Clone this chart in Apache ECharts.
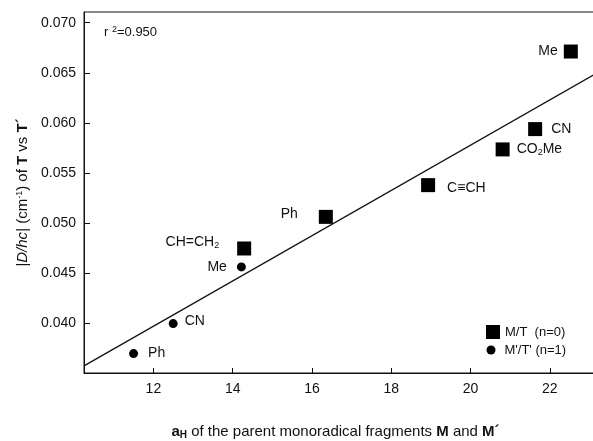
<!DOCTYPE html>
<html>
<head>
<meta charset="utf-8">
<script src="https://cdn.jsdelivr.net/npm/echarts@6/dist/echarts.min.js"></script>
<style>
html,body{margin:0;padding:0;background:#fff;}
#chart{width:593px;height:441px;}
</style>
</head>
<body>
<div id="chart"></div>
<script>
// ---- data ----
const squareNames = ['Me', 'CN', 'CO2Me', 'C≡CH', 'Ph', 'CH=CH2'];
const squareX = [22.53, 21.63, 20.81, 18.93, 16.35, 14.29];
const squareY = [0.06712, 0.05937, 0.05734, 0.05377, 0.05060, 0.04744];
const circleNames = ['Me', 'CN', 'Ph'];
const circleX = [14.22, 12.50, 11.50];
const circleY = [0.04560, 0.03994, 0.03694];
const fitX = [10.25, 23.14];
const fitY = [0.03571, 0.06486];
const xTicks = [12, 14, 16, 18, 20, 22];
const yTicks = [0.040, 0.045, 0.050, 0.055, 0.060, 0.065, 0.070];
const legendNames = ['M/T  (n=0)', "M'/T' (n=1)"];
const r2Text = '0.950';

// ---- styling ----
const FONT = 'Liberation Sans, Arial, sans-serif';
const INK = '#111';
const richSub = { sub: { fontSize: 9, verticalAlign: 'bottom', padding: [6, 0, 0, 0], color: INK, fontFamily: FONT } };
function richName(n) {
  if (n === 'CO2Me') return 'CO{sub|2}Me';
  if (n === 'CH=CH2') return 'CH=CH{sub|2}';
  return n;
}
const squareLabelStyle = {
  'Me': { position: 'left', distance: 6, offset: [0, 0] },
  'CN': { position: 'right', distance: 9, offset: [0, 0] },
  'CO2Me': { position: 'right', distance: 7, offset: [0, 0] },
  'C≡CH': { position: 'right', distance: 12, offset: [0, 3] },
  'Ph': { position: 'left', distance: 21, offset: [0, -3] },
  'CH=CH2': { position: 'left', distance: 18, offset: [0, -6] }
};
const circleLabelStyle = {
  'Me': { position: 'left', distance: 10, offset: [0, 0] },
  'CN': { position: 'right', distance: 7, offset: [0, -2] },
  'Ph': { position: 'right', distance: 10, offset: [0, 0] }
};
function makeData(names, xs, ys, styles) {
  return names.map((n, i) => ({
    name: n,
    value: [xs[i], ys[i]],
    label: Object.assign({ show: true }, styles[n])
  }));
}
const labelBase = {
  show: true,
  formatter: p => richName(p.name),
  color: INK,
  fontSize: 14,
  fontFamily: FONT,
  rich: richSub
};

const chart = echarts.init(document.getElementById('chart'), null, { renderer: 'canvas' });
chart.setOption({
  animation: false,
  backgroundColor: '#fff',
  title: {
    text: 'r {sup|2}=' + r2Text,
    left: 104,
    top: 25,
    padding: 0,
    textStyle: {
      fontSize: 13, fontWeight: 'normal', color: INK, fontFamily: FONT,
      rich: { sup: { fontSize: 9, verticalAlign: 'top', padding: [0, 0, 6, 0], color: INK, fontFamily: FONT } }
    }
  },
  grid: {
    left: 84, right: -2, top: 12, bottom: 68,
    containLabel: false,
    outerBoundsMode: 'none',
    show: true, borderColor: INK, borderWidth: 1, backgroundColor: 'transparent'
  },
  legend: [
    {
      data: [{ name: legendNames[0], icon: 'rect' }],
      left: 486, top: 325, padding: 0, itemWidth: 14, itemHeight: 14,
      itemStyle: { color: '#000', opacity: 1 },
      textStyle: { fontSize: 13, color: INK, fontFamily: FONT },
      selectedMode: false
    },
    {
      data: [{ name: legendNames[1], icon: 'circle' }],
      left: 486.5, top: 343.5, padding: 0, itemWidth: 9, itemHeight: 9,
      itemStyle: { color: '#000', opacity: 1 },
      textStyle: { fontSize: 13, color: INK, fontFamily: FONT, padding: [0, 0, 0, 4] },
      selectedMode: false
    }
  ],
  xAxis: {
    type: 'value',
    min: 10.25, max: 23.14,
    axisLine: { show: true, lineStyle: { color: INK, width: 1 } },
    axisTick: { show: true, inside: true, length: 5, lineStyle: { color: INK }, customValues: xTicks },
    axisLabel: { customValues: xTicks, fontSize: 14, color: INK, fontFamily: FONT, margin: 9 },
    splitLine: { show: false },
    name: '{b|a}{bs|H} of the parent monoradical fragments {b|M} and {b|M´}',
    nameLocation: 'middle',
    nameGap: 50,
    nameTextStyle: {
      fontSize: 15, color: INK, fontFamily: FONT, padding: [0, 8, 0, 0],
      rich: {
        b: { fontSize: 15, fontWeight: 'bold', color: INK, fontFamily: FONT },
        bs: { fontSize: 10, fontWeight: 'bold', color: INK, fontFamily: FONT, verticalAlign: 'bottom', padding: [7, 0, 0, 0] }
      }
    }
  },
  yAxis: {
    type: 'value',
    min: 0.035, max: 0.07107,
    axisLine: { show: true, lineStyle: { color: INK, width: 1 } },
    axisTick: { show: true, inside: true, length: 6, lineStyle: { color: INK }, customValues: yTicks },
    axisLabel: {
      customValues: yTicks, fontSize: 14, color: INK, fontFamily: FONT, margin: 8,
      formatter: v => v.toFixed(3)
    },
    splitLine: { show: false },
    name: '{i||D/hc|} (cm{sup|-1}) of {b|T} vs {b|T´}',
    nameLocation: 'middle',
    nameRotate: 90,
    nameGap: 48,
    nameTextStyle: {
      fontSize: 15, color: INK, fontFamily: FONT,
      rich: {
        i: { fontSize: 15, fontStyle: 'italic', color: INK, fontFamily: FONT },
        b: { fontSize: 15, fontWeight: 'bold', color: INK, fontFamily: FONT },
        sup: { fontSize: 9, color: INK, fontFamily: FONT, verticalAlign: 'top', padding: [0, 0, 7, 0] }
      }
    }
  },
  series: [
    {
      name: 'fit',
      type: 'line',
      data: fitX.map((x, i) => [x, fitY[i]]),
      showSymbol: false,
      symbol: 'none',
      lineStyle: { color: INK, width: 1.2 },
      silent: true,
      z: 1
    },
    {
      name: legendNames[0],
      type: 'scatter',
      symbol: 'rect',
      symbolSize: 14,
      itemStyle: { color: '#000', opacity: 1 },
      label: labelBase,
      data: makeData(squareNames, squareX, squareY, squareLabelStyle),
      z: 3
    },
    {
      name: legendNames[1],
      type: 'scatter',
      symbol: 'circle',
      symbolSize: 9,
      itemStyle: { color: '#000', opacity: 1 },
      label: labelBase,
      data: makeData(circleNames, circleX, circleY, circleLabelStyle),
      z: 3
    }
  ]
});
</script>
</body>
</html>
